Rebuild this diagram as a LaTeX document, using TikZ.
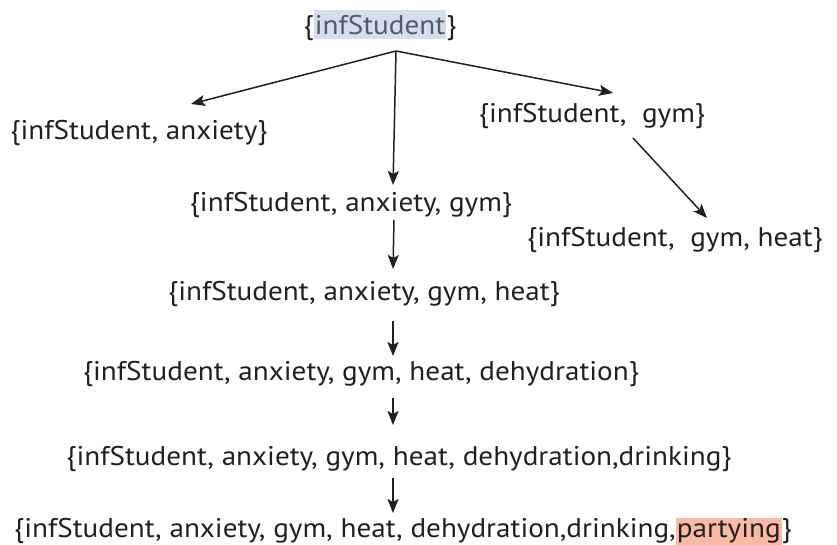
\documentclass[tikz,border=0pt]{standalone}
\usepackage{fontspec}
\setmainfont{PT Sans}[FakeStretch=1.08]
\usetikzlibrary{arrows.meta}
\definecolor{txt}{HTML}{231F20}
\definecolor{hlblue}{HTML}{D6DDEF}
\definecolor{hlred}{HTML}{F9BBA3}
\definecolor{graytxt}{HTML}{545B6B}
\newcommand\hlbg[4]{{\setlength{\fboxsep}{0pt}\colorbox{#1}{\rule[-#3]{0pt}{#2}#4}}}
\begin{document}
\begin{tikzpicture}[x=1pt,y=-1pt,
  lbl/.style={inner sep=0pt, anchor=base, text=txt, font=\fontsize{27}{30}\selectfont},
  arr/.style={draw=txt, line width=1.5pt, -{Stealth[length=14pt,width=11pt,inset=3pt]}}]
\useasboundingbox (0,0) rectangle (837,545);
\node[lbl] (top) at (380,35) {\{\hlbg{hlblue}{29pt}{4pt}{\kern1pt\textcolor{graytxt}{infStudent}\kern1pt}\}};
\node[lbl] (ax) at (139,140) {\{infStudent, anxiety\}};
\node[lbl] (gy) at (592,123) {\{infStudent,\ \ gym\}};
\node[lbl] (axgy) at (351,212) {\{infStudent, anxiety, gym\}};
\node[lbl] (gyht) at (675,247) {\{infStudent,\ \ gym, heat\}};
\node[lbl] (ht) at (364,300) {\{infStudent, anxiety, gym, heat\}};
\node[lbl] (dh) at (361,380) {\{infStudent, anxiety, gym, heat, dehydration\}};
\node[lbl] (dr) at (399,465) {\{infStudent, anxiety, gym, heat, dehydration,drinking\}};
\node[lbl] (pa) at (403,537) {\{infStudent, anxiety, gym, heat, dehydration,drinking,\hlbg{hlred}{22pt}{8pt}{\kern1pt partying\kern1pt}\}};
\coordinate (o) at (396,51);
\coordinate (tax) at (191,104);
\coordinate (taxgy) at (393,185);
\coordinate (tgy) at (613,93);
\coordinate (sgy) at (633,138);
\coordinate (tgyht) at (707,218);
\coordinate (s1) at (394,220); \coordinate (t1) at (393,269);
\coordinate (s2) at (393,321); \coordinate (t2) at (393,356);
\coordinate (s3) at (393,398); \coordinate (t3) at (393,425);
\coordinate (s4) at (393,478); \coordinate (t4) at (393,513);
\draw[arr] (o) -- (tax);
\draw[arr] (o) -- (taxgy);
\draw[arr] (o) -- (tgy);
\draw[arr] (sgy) -- (tgyht);
\draw[arr] (s1) -- (t1);
\draw[arr] (s2) -- (t2);
\draw[arr] (s3) -- (t3);
\draw[arr] (s4) -- (t4);
\end{tikzpicture}
\end{document}
